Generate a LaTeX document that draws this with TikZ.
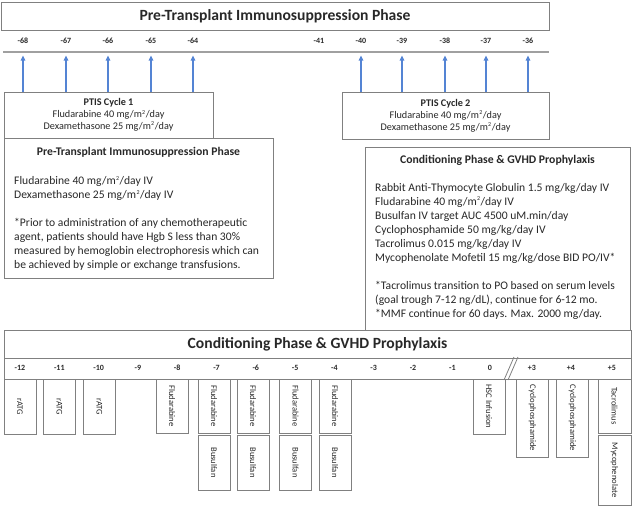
\documentclass[tikz,border=0pt]{standalone}
\usepackage{fontspec}
\setmainfont{Carlito}
\usetikzlibrary{arrows.meta}
\definecolor{bord}{RGB}{128,128,128}
\definecolor{rule}{RGB}{160,160,160}
\definecolor{arrblue}{RGB}{84,132,212}
\definecolor{txt}{RGB}{40,40,40}
\newcommand{\sqr}{\textsuperscript{\kern0.3pt\fontsize{6}{6}\selectfont 2}}
\tikzset{
  titlebox/.style={draw=bord, line width=0.9pt, inner sep=0pt, font=\fontsize{15.6}{18}\selectfont\bfseries, text=txt},
  daylab/.style={inner sep=0pt, font=\fontsize{8}{9}\selectfont\bfseries, text=txt},
  cyclebox/.style={draw=bord, line width=0.8pt, fill=white, inner sep=0pt, align=center, font=\fontsize{10.2}{11.8}\selectfont, text=txt},
  infobox/.style={draw=bord, line width=0.8pt, fill=white, inner sep=0pt},
  infotitle/.style={inner sep=0pt, font=\fontsize{11.7}{14}\selectfont\bfseries, text=txt},
  infobody/.style={inner sep=0pt, align=left, font=\fontsize{11.6}{14}\selectfont, text=txt},
  vb/.style={draw=bord, line width=0.8pt, inner sep=0pt, rotate=-90, minimum height=32pt, font=\fontsize{8.6}{9}\selectfont, text=txt},
  uparrow/.style={draw=arrblue, line width=1.2pt, -{Triangle[length=5pt,width=4.5pt]}},
  hrule/.style={draw=rule, line width=1.3pt},
}
\begin{document}
\begin{tikzpicture}[x=1pt,y=-1pt]
\useasboundingbox (0,0) rectangle (632,507);

% ---------- top timeline ----------
\node[titlebox, minimum width=548pt, minimum height=28pt] (toptitle) at (275,16) {Pre-Transplant Immunosuppression Phase};
\coordinate (tl) at (3,52);
\coordinate (tr) at (549,52);
\draw[hrule] (tl) -- (tr);

\foreach \d/\x in {68/23,67/66,66/108,65/151,64/193,41/319,40/361,39/402,38/445,37/486,36/528}{
  \node[daylab] (d\d) at (\x,41) {-\d};
  \coordinate (t\d) at (\x,55.5);
}

\node[cyclebox, minimum width=209pt, minimum height=46pt] (c1) at (108.5,115) {\textbf{PTIS Cycle 1}\\Fludarabine 40 mg/m\sqr/day\\Dexamethasone 25 mg/m\sqr/day};
\node[cyclebox, minimum width=207pt, minimum height=47pt] (c2) at (445.5,115.5) {\textbf{PTIS Cycle 2}\\Fludarabine 40 mg/m\sqr/day\\Dexamethasone 25 mg/m\sqr/day};

\foreach \d in {68,67,66,65,64}{ \draw[uparrow] (c1.north -| t\d) -- (t\d); }
\foreach \d in {40,39,38,37,36}{ \draw[uparrow] (c2.north -| t\d) -- (t\d); }

% ---------- info boxes ----------
\node[infobox, minimum width=269pt, minimum height=140pt] (ptis) at (138.5,208) {};
\node[infotitle] (ptist) at (138.5,152) {Pre-Transplant Immunosuppression Phase};
\node[infobody, anchor=north west] (ptisb) at (14,176) {Fludarabine 40 mg/m\sqr/day IV\\Dexamethasone 25 mg/m\sqr/day IV\\[14pt]*Prior to administration of any chemotherapeutic\\agent, patients should have Hgb S less than 30\%\\measured by hemoglobin electrophoresis which can\\be achieved by simple or exchange transfusions.};

\node[infobox, minimum width=265pt, minimum height=183pt] (cond) at (497.5,238.5) {};
\node[infotitle] (condt) at (497.5,160) {Conditioning Phase \& GVHD Prophylaxis};
\node[infobody, anchor=north west] (condb) at (375,183) {Rabbit Anti-Thymocyte Globulin 1.5 mg/kg/day IV\\Fludarabine 40 mg/m\sqr/day IV\\Busulfan IV target AUC 4500 uM.min/day\\Cyclophosphamide 50 mg/kg/day IV\\Tacrolimus 0.015 mg/kg/day IV\\Mycophenolate Mofetil 15 mg/kg/dose BID PO/IV*\\[14pt]*Tacrolimus transition to PO based on serum levels\\(goal trough 7-12 ng/dL), continue for 6-12 mo.\\*MMF continue for 60 days. Max. 2000 mg/day.};

% ---------- bottom timeline ----------
\node[titlebox, minimum width=627pt, minimum height=28pt] (bottitle) at (317.5,344) {Conditioning Phase \& GVHD Prophylaxis};
\node[draw=bord, line width=0.9pt, inner sep=0pt, minimum width=627pt, minimum height=21pt] (botrow) at (317.5,368.5) {};

\foreach \n/\l/\x in {m12/-12/20,m11/-11/59.3,m10/-10/98.6,m9/-9/137.9,m8/-8/177.2,m7/-7/216.5,m6/-6/255.8,m5/-5/295.1,m4/-4/334.4,m3/-3/373.7,m2/-2/413,m1/-1/452.3,z0/0/490,p3/+3/532,p4/+4/571,p5/+5/612}{
  \node[daylab] (b\n) at (\x,367.5) {\l};
}
\coordinate (s1a) at (504,380);
\coordinate (s1b) at (514,357);
\coordinate (s2a) at (508,380);
\coordinate (s2b) at (518,357);
\draw[draw=bord, line width=0.8pt] (s1a) -- (s1b) (s2a) -- (s2b);

\node[vb, minimum width=55pt] (r12) at (20,406.5) {rATG};
\node[vb, minimum width=55pt] (r11) at (59.5,406.5) {rATG};
\node[vb, minimum width=55pt] (r10) at (99.5,406.5) {rATG};
\node[vb, minimum width=54pt] (f8) at (172,406) {Fludarabine};
\node[vb, minimum width=54pt] (f7) at (214,406) {Fludarabine};
\node[vb, minimum width=54pt] (f6) at (253,406) {Fludarabine};
\node[vb, minimum width=54pt] (f5) at (295.5,406) {Fludarabine};
\node[vb, minimum width=54pt] (f4) at (335,406) {Fludarabine};
\node[vb, minimum width=55pt] (bu7) at (214,462.5) {Busulfan};
\node[vb, minimum width=55pt] (bu6) at (253,462.5) {Busulfan};
\node[vb, minimum width=55pt] (bu5) at (295.5,462.5) {Busulfan};
\node[vb, minimum width=55pt] (bu4) at (335,462.5) {Busulfan};
\node[vb, minimum width=55pt] (hsc) at (489,406.5) {HSC Infusion};
\node[vb, minimum width=78pt] (cy3) at (532.5,418) {Cyclophosphamide};
\node[vb, minimum width=78pt] (cy4) at (572.5,418) {Cyclophosphamide};
\node[vb, minimum width=54pt, minimum height=33pt] (tac) at (614.5,406) {Tacrolimus};
\node[vb, minimum width=70pt, minimum height=33pt] (myc) at (614.5,470) {Mycophenolate};
\end{tikzpicture}
\end{document}
